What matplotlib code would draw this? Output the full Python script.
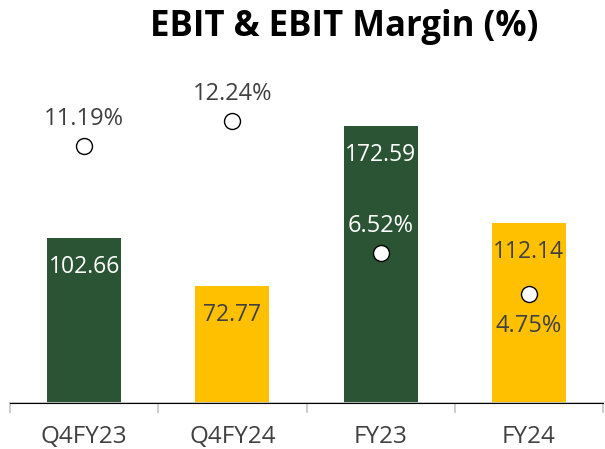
import matplotlib.pyplot as plt
import numpy as np

plt.rcParams['font.family'] = ['Open Sans', 'DejaVu Sans']

periods = ['Q4FY23', 'Q4FY24', 'FY23', 'FY24']
ebit = [102.66, 72.77, 172.59, 112.14]
margin = [11.19, 12.24, 6.52, 4.75]

green = '#2a5434'
yellow = '#ffc000'
grey_txt = '#404040'
bar_cols = [green, yellow, green, yellow]
lbl_cols = ['white', grey_txt, 'white', grey_txt]
margin_cols = [grey_txt, grey_txt, 'white', grey_txt]
margin_pos = ['above', 'above', 'above', 'below']

fig = plt.figure(figsize=(6.05, 4.49), dpi=100)
ax = fig.add_axes([10/605, 1 - 403/449, 593/605, 353/449])
x = np.arange(len(periods))
ax.bar(x, ebit, width=0.5, color=bar_cols, zorder=2)
ax.set_xlim(-0.5, 3.5)
ax.set_ylim(0, 220)

for xi, v, c in zip(x, ebit, lbl_cols):
    ax.annotate(f'{v:.2f}', (xi, v), xytext=(0, -21), textcoords='offset points',
                ha='center', va='center', fontsize=16.5, color=c, zorder=5)

ax2 = ax.twinx()
ax2.set_ylim(0, 353/23)
ax2.plot(x, margin, linestyle='none', marker='o', markersize=11.5,
         markerfacecolor='white', markeredgecolor='black', markeredgewidth=1, zorder=4)
for xi, m, c, p in zip(x, margin, margin_cols, margin_pos):
    dy = 19.5 if p == 'above' else -23
    ax2.annotate(f'{m:.2f}%', (xi, m), xytext=(0, dy), textcoords='offset points',
                 ha='center', va='center', fontsize=17, color=c)

for a in (ax, ax2):
    for s in ('top', 'right', 'left'):
        a.spines[s].set_visible(False)
    a.set_yticks([])
ax.spines['bottom'].set_color('#c8c8c8')
ax.spines['bottom'].set_linewidth(1.3)

ax.set_xticks(x)
ax.set_xticklabels(periods, fontsize=17.5, color=grey_txt)
ax.tick_params(axis='x', length=0, pad=16)
ax.set_xticks(np.arange(-0.5, 4.0, 1.0), minor=True)
ax.tick_params(axis='x', which='minor', length=7, color='#c8c8c8', width=1.3)

fig.text(344/605, 1 - 27/449, 'EBIT & EBIT Margin (%)', ha='center', va='center',
         fontsize=25, fontweight='bold', color='black')

fig.savefig('out.png', dpi=100)
